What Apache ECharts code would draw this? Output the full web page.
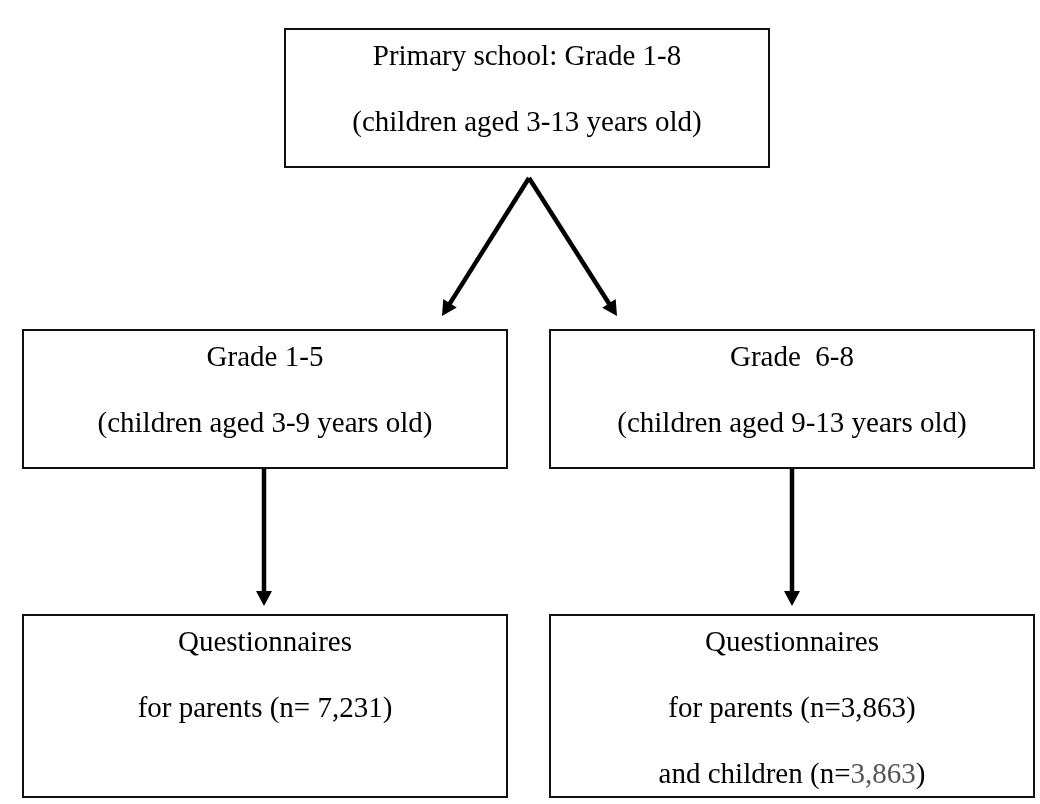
<!DOCTYPE html>
<html>
<head>
<meta charset="utf-8">
<title>Primary school sample</title>
<script src="https://cdn.jsdelivr.net/npm/echarts@6/dist/echarts.min.js"></script>
<style>
    html, body { margin: 0; padding: 0; background: #fff; }
    #chart { width: 1040px; height: 804px; }
</style>
</head>
<body>
<div id="chart"></div>
<script>
// box texts, top to bottom ({g|..} = grey number)
var nodeNames = ['all', 'grade15', 'grade68', 'quesLeft', 'quesRight'];
var nodeLines = [
    ['Primary school: Grade 1-8', '(children aged 3-13 years old)'],
    ['Grade 1-5', '(children aged 3-9 years old)'],
    ['Grade  6-8', '(children aged 9-13 years old)'],
    ['Questionnaires', 'for parents (n= 7,231)'],
    ['Questionnaires', 'for parents (n=3,863)', 'and children (n={g|3,863})']
];
var links = [
    ['all', 'grade15'],
    ['all', 'grade68'],
    ['grade15', 'quesLeft'],
    ['grade68', 'quesRight']
];

// layout, in px of the 1040x804 page
var boxPos = {
    all: [285, 29, 769, 167],
    grade15: [23, 330, 507, 468],
    grade68: [550, 330, 1034, 468],
    quesLeft: [23, 615, 507, 797],
    quesRight: [550, 615, 1034, 797]
};
var linkPos = [
    [529, 178, 442, 316],
    [529, 178, 617, 316],
    [264, 468, 264, 606],
    [792, 468, 792, 606]
];
var font = '29px "Liberation Serif", "Times New Roman", serif';

var myChart = echarts.init(document.getElementById('chart'));

function drawBox(params, api) {
    var i = params.dataIndex;
    var p0 = api.coord([api.value(0), api.value(1)]);
    var p1 = api.coord([api.value(2), api.value(3)]);
    var cx = (api.value(0) + api.value(2)) / 2;
    var children = [{
        type: 'rect',
        shape: { x: p0[0], y: p0[1], width: p1[0] - p0[0], height: p1[1] - p0[1] },
        style: { fill: '#fff', stroke: '#111', lineWidth: 2 }
    }];
    nodeLines[i].forEach(function(t, k) {
        var pt = api.coord([cx, api.value(1) + 28 + 66 * k]);
        children.push({
            type: 'text',
            style: {
                text: t,
                x: pt[0],
                y: pt[1],
                align: 'center',
                verticalAlign: 'middle',
                fill: '#000',
                font: font,
                rich: { g: { fill: '#555', font: font } }
            }
        });
    });
    return { type: 'group', children: children };
}

function drawArrow(params, api) {
    var a = api.coord([api.value(0), api.value(1)]);
    var b = api.coord([api.value(2), api.value(3)]);
    var dx = b[0] - a[0], dy = b[1] - a[1];
    var len = Math.sqrt(dx * dx + dy * dy);
    var ux = dx / len, uy = dy / len;
    var headLen = 15, headHalf = 8;
    var bx = b[0] - ux * headLen, by = b[1] - uy * headLen;
    return {
        type: 'group',
        children: [{
            type: 'line',
            shape: { x1: a[0], y1: a[1], x2: bx + ux, y2: by + uy },
            style: { stroke: '#000', lineWidth: 4.5 }
        }, {
            type: 'polygon',
            shape: {
                points: [
                    [b[0], b[1]],
                    [bx - uy * headHalf, by + ux * headHalf],
                    [bx + uy * headHalf, by - ux * headHalf]
                ]
            },
            style: { fill: '#000' }
        }]
    };
}

var option = {
    animation: false,
    backgroundColor: '#fff',
    grid: { left: 0, right: 0, top: 0, bottom: 0 },
    xAxis: { type: 'value', min: 0, max: 1040, show: false },
    yAxis: { type: 'value', min: 0, max: 804, inverse: true, show: false },
    series: [{
        type: 'custom',
        name: 'arrows',
        renderItem: drawArrow,
        data: links.map(function(l, i) { return linkPos[i]; })
    }, {
        type: 'custom',
        name: 'boxes',
        renderItem: drawBox,
        data: nodeNames.map(function(n) { return boxPos[n]; })
    }]
};
myChart.setOption(option);
</script>
</body>
</html>
